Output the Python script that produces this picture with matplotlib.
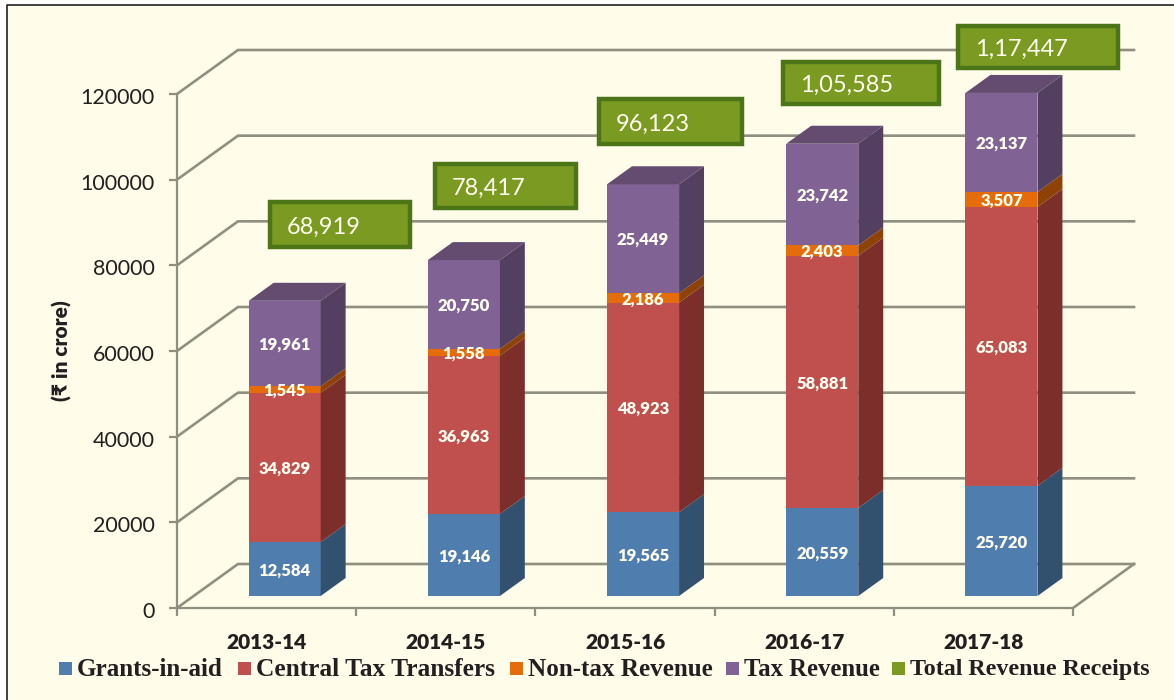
import matplotlib
matplotlib.use("Agg")
import matplotlib.pyplot as plt
from matplotlib.patches import Polygon, Rectangle
from matplotlib.lines import Line2D
from matplotlib.transforms import ScaledTranslation

plt.rcParams['font.family'] = ['Lato', 'DejaVu Sans']

W, H = 1174, 700

# data
years = ['2013-14', '2014-15', '2015-16', '2016-17', '2017-18']
grants = [12584, 19146, 19565, 20559, 25720]
central = [34829, 36963, 48923, 58881, 65083]
nontax = [1545, 1558, 2186, 2403, 3507]
taxrev = [19961, 20750, 25449, 23742, 23137]
totals = ['68,919', '78,417', '96,123', '1,05,585', '1,17,447']
yticks = [0, 20000, 40000, 60000, 80000, 100000, 120000]
legend_names = ['Grants-in-aid', 'Central Tax Transfers', 'Non-tax Revenue', 'Tax Revenue', 'Total Revenue Receipts']

series = [grants, central, nontax, taxrev]
front_cols = ['#4F7EAE', '#C0504D', '#E46C0A', '#806394']
side_cols = ['#31516F', '#7C2E2A', '#8F4207', '#533F60']
top_col = '#634C70'
grid_col = '#8F8F80'
text_col = '#231F20'
box_face = '#7A9A22'
box_edge = '#4C7518'

# pixel layout
left, right, top, bottom = 177, 1073, 94, 608
unit_x = (right - left) / 5
unit_y = (bottom - top) / 120000
depth_x = 61 / unit_x       # full depth of the floor, in axis units
depth_y = 44 / unit_y
bar_w = 72 / unit_x
bar_d0, bar_d1 = 12 / 44, 30 / 44


def pt(x, y, d):
    return (x + d * depth_x, y + d * depth_y)


fig = plt.figure(figsize=(W / 100, H / 100), dpi=100, facecolor='white')
fig.add_artist(Rectangle((7 / W, 0), 1 - 7 / W, 1 - 5 / H, transform=fig.transFigure,
                         fc='#FFFCE9', ec='none', zorder=-3))
fig.add_artist(Line2D([7 / W, 7 / W, 1], [0, 1 - 5 / H, 1 - 5 / H], transform=fig.transFigure,
                      color='#231F20', lw=1.2, zorder=-2))

ax = fig.add_axes([left / W, 1 - bottom / H, (right - left) / W, (bottom - top) / H])
ax.patch.set_alpha(0)
ax.set_xlim(0, 5)
ax.set_ylim(0, 120000)
for s in ['top', 'right']:
    ax.spines[s].set_visible(False)
for s in ['left', 'bottom']:
    ax.spines[s].set_color(grid_col)
    ax.spines[s].set_linewidth(1.6)

# ticks
ax.set_yticks(yticks)
ax.set_yticklabels([str(v) for v in yticks], fontsize=15.5, color=text_col)
ax.set_xticks(range(6))
ax.set_xticklabels([])
ax.set_xticks([i + 0.5 for i in range(5)], labels=years, minor=True)
ax.tick_params(axis='x', which='minor', length=0, pad=18, labelsize=15, labelcolor=text_col)
for lab in ax.get_xticklabels(minor=True):
    lab.set_fontweight('heavy')
ax.tick_params(axis='both', which='major', length=6, width=1.6, color=grid_col)
ax.tick_params(axis='y', pad=10)
down = ScaledTranslation(0, -2 / 100, fig.dpi_scale_trans)
for lab in ax.get_yticklabels():
    lab.set_transform(lab.get_transform() + down)

# oblique walls and floor
for v in yticks:
    xs, ys = zip(pt(0, v, 0), pt(0, v, 1), pt(5, v, 1))
    ax.plot(xs, ys, color=grid_col, lw=1.9, clip_on=False, zorder=1, solid_joinstyle='miter')
xs, ys = zip(pt(5, 0, 0), pt(5, 0, 1))
ax.plot(xs, ys, color=grid_col, lw=1.9, clip_on=False, zorder=1)

# stacked 3d bars
for i in range(5):
    x0 = i + 0.5 - bar_w / 2 + 0.008
    x1 = x0 + bar_w
    base = 0
    for k, vals in enumerate(series):
        v = vals[i]
        y0, y1 = base, base + v
        front = [pt(x0, y0, bar_d0), pt(x1, y0, bar_d0), pt(x1, y1, bar_d0), pt(x0, y1, bar_d0)]
        side = [pt(x1, y0, bar_d0), pt(x1, y0, bar_d1), pt(x1, y1, bar_d1), pt(x1, y1, bar_d0)]
        ax.add_patch(Polygon(front, fc=front_cols[k], ec='none', clip_on=False, zorder=3))
        ax.add_patch(Polygon(side, fc=side_cols[k], ec='none', clip_on=False, zorder=3))
        cx, cy = pt((x0 + x1) / 2, (y0 + y1) / 2, bar_d0)
        ax.annotate(f'{v:,}', (cx, cy), xytext=(0, -1), textcoords='offset points',
                    color='#FFFDF0', ha='center', va='center',
                    fontsize=12, fontweight='heavy', zorder=5, annotation_clip=False)
        base = y1
    roof = [pt(x0, base, bar_d0), pt(x1, base, bar_d0), pt(x1, base, bar_d1), pt(x0, base, bar_d1)]
    ax.add_patch(Polygon(roof, fc=top_col, ec='none', clip_on=False, zorder=3))

# overlay in pixel coords for the total boxes and the legend
ov = fig.add_axes([0, 0, 1, 1], zorder=5)
ov.patch.set_alpha(0)
ov.set_xlim(0, W)
ov.set_ylim(H, 0)
ov.axis('off')

ov.text(62, 351, '(₹ in crore)', fontsize=15, fontweight='heavy', color=text_col, rotation=90,
        ha='center', va='center')

box_x = [268, 433, 597, 781, 956]
box_y = [200, 162, 97, 60, 24]
box_w = [144, 145, 147, 160, 164]
box_h = [49, 48, 49, 46, 46]
for i, t in enumerate(totals):
    ov.add_patch(Rectangle((box_x[i] + 2, box_y[i] + 2), box_w[i] - 4, box_h[i] - 4,
                           fc=box_face, ec=box_edge, lw=3.2))
    ov.text(box_x[i] + 19, box_y[i] + box_h[i] / 2 + 2.5, t, color='#FFFDF0', fontsize=17,
            ha='left', va='center')

leg_sq = [59, 238, 510, 726, 892]
leg_sizes = [18.1, 18.3, 18.1, 17.8, 17.3]
leg_cols = front_cols + [box_face]
for sx, name, c, fs in zip(leg_sq, legend_names, leg_cols, leg_sizes):
    ov.add_patch(Rectangle((sx, 662), 13, 13, fc=c, ec='none'))
    ov.text(sx + 18, 670, name, family='Liberation Serif', fontweight='bold', fontsize=fs,
            color=text_col, ha='left', va='center')

fig.savefig('out.png', dpi=100)
